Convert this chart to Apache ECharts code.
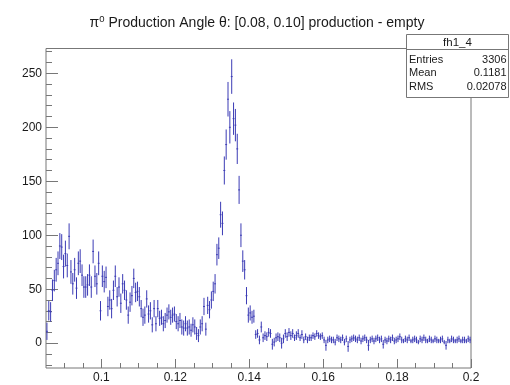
<!DOCTYPE html>
<html>
<head>
<meta charset="utf-8">
<script src="https://cdn.jsdelivr.net/npm/echarts@6/dist/echarts.min.js"></script>
<style>
html, body { margin: 0; padding: 0; background: #fff; }
#chart { width: 510px; height: 385px; }
</style>
</head>
<body>
<div id="chart"></div>
<script>
// Histogram fh1_4: 230 bins of width 0.0005 starting at 0.085
const binLow = 0.085;
const binWidth = 0.0005;

const counts = [
  11, 30, 29, 49, 58, 68, 74, 90, 89, 71,
  83, 72, 99, 66, 55, 68, 51, 74, 76, 63,
  52, 52, 54, 63, 52, 85, 62, 55, 74, 30,
  62, 57, 61, 34, 40, 32, 49, 62, 43, 52,
  37, 55, 49, 40, 26, 38, 44, 60, 47, 48,
  43, 32, 24, 26, 41, 27, 30, 17, 32, 18,
  32, 23, 24, 18, 21, 26, 29, 24, 26, 27,
  20, 18, 21, 15, 14, 18, 14, 15, 12, 17,
  15, 9, 7, 15, 18, 34, 13, 35, 31, 40,
  48, 55, 82, 88, 119, 111, 160, 184, 226, 200,
  247, 208, 202, 180, 142, 100, 76, 68, 44, 26,
  28, 24, 25, 8, 9, 3, 15, 5, 7, 6,
  10, 9, -1, 1, 5, 6, 5, 0, 4, 9,
  6, 10, 7, 9, 5, 7, 9, 5, 8, 3,
  6, 3, 5, 5, 7, 6, 9, 7, 6, 7,
  3, -2, 3, 4, 3, 3, 1, 5, 4, 3,
  5, 1, 4, -3, 3, 4, 5, 4, 3, 5,
  2, 4, 5, 3, -2, 3, 4, 2, 4, 5,
  3, 4, -1, 3, 2, 4, 3, 5, 2, 3,
  4, 6, 3, 2, 4, 3, 5, 2, 3, 4,
  3, 1, 4, 3, 5, 3, 2, 4, 3, 2,
  4, 3, 2, 3, 4, 1, -2, 3, 2, 4,
  3, 2, 3, 4, 2, 3, 3, 2, 4, 3
];

const errors = [
  8, 9, 9, 10, 10, 11, 11, 12, 12, 11,
  12, 11, 12, 11, 10, 11, 10, 11, 11, 10,
  10, 10, 10, 10, 10, 11, 10, 10, 11, 9,
  10, 10, 10, 9, 9, 9, 9, 10, 9, 9,
  9, 9, 9, 9, 8, 9, 9, 9, 9, 9,
  9, 8, 8, 8, 8, 8, 8, 7, 8, 7,
  8, 7, 7, 7, 7, 7, 7, 7, 7, 7,
  7, 7, 7, 7, 7, 7, 7, 7, 6, 7,
  7, 6, 6, 7, 7, 8, 6, 8, 8, 8,
  9, 9, 10, 10, 12, 11, 13, 14, 16, 15,
  16, 15, 15, 14, 13, 11, 10, 9, 8, 7,
  7, 6, 6, 4, 4, 4, 5, 4, 4, 4,
  4, 4, 5, 4, 4, 4, 4, 5, 4, 4,
  4, 4, 4, 4, 3, 4, 4, 3, 4, 3,
  3, 3, 3, 3, 3, 3, 3, 3, 3, 3,
  3, 5, 3, 3, 3, 3, 3, 3, 3, 3,
  3, 3, 3, 5, 3, 3, 3, 3, 3, 3,
  3, 3, 3, 3, 5, 3, 3, 3, 3, 3,
  3, 3, 4, 3, 3, 3, 3, 3, 3, 3,
  3, 3, 3, 2, 3, 3, 3, 2, 3, 3,
  3, 2, 3, 3, 3, 3, 2, 3, 3, 2,
  3, 3, 2, 3, 3, 2, 4, 3, 2, 3,
  3, 2, 3, 3, 2, 3, 3, 2, 3, 3
];

// Axis ranges and tick positions
const xRange = [0.085, 0.2];
const yRange = [-23, 273];
const xMajorTicks = [0.1, 0.12, 0.14, 0.16, 0.18, 0.2];
const xMinorTicks = [0.09, 0.095, 0.105, 0.11, 0.115, 0.125, 0.13, 0.135,
  0.145, 0.15, 0.155, 0.165, 0.17, 0.175, 0.185, 0.19, 0.195];
const yMajorTicks = [0, 50, 100, 150, 200, 250];
const yMinorTicks = [-20, -10, 10, 20, 30, 40, 60, 70, 80, 90, 110, 120, 130, 140,
  160, 170, 180, 190, 210, 220, 230, 240, 260, 270];

// Statistics box
const statsTitle = 'fh1_4';
const statsNames = ['Entries', 'Mean', 'RMS'];
const statsValues = ['3306', '0.1181', '0.02078'];

const FONT = '"Liberation Sans", Arial, Helvetica, sans-serif';
const AXIS_GRAY = '#777777';
const MARK_COLOR = '#3b3bb5';

const histData = counts.map((v, i) => [binLow + binWidth * (i + 0.5), v, errors[i]]);

function fmtTick(v) {
  return String(parseFloat(Number(v).toFixed(3)));
}

function makeAxis(range, ticks, len, withLabels, pos) {
  return {
    type: 'value',
    position: pos,
    min: range[0],
    max: range[1],
    splitLine: { show: false },
    axisLine: { show: false, onZero: false },
    axisTick: {
      show: true,
      inside: true,
      length: len,
      customValues: ticks,
      lineStyle: { color: AXIS_GRAY, width: 1 }
    },
    axisLabel: withLabels ? {
      show: true,
      customValues: ticks,
      formatter: fmtTick,
      color: '#1a1a1a',
      fontSize: 12,
      fontFamily: FONT,
      margin: 4
    } : { show: false }
  };
}

const chart = echarts.init(document.getElementById('chart'), null, { renderer: 'canvas' });

const statsLeft = 406.5, statsRight = 508.5, statsTop = 34.5, statsSep = 49.5, statsBottom = 97.5;
const statsRowY = [59.5, 73, 86.5];

const graphics = [
  {
    type: 'text',
    x: 257,
    y: 23,
    z: 10,
    style: {
      text: '{a|π}{s|0}{a| Production Angle θ: [0.08, 0.10] production - empty}',
      align: 'center',
      verticalAlign: 'middle',
      rich: {
        a: { fontSize: 14, fontFamily: FONT, fill: '#1a1a1a', lineHeight: 18 },
        s: { fontSize: 9.5, fontFamily: FONT, fill: '#1a1a1a', lineHeight: 18, padding: [0, 0, 8, 0] }
      }
    }
  },
  {
    type: 'rect',
    z: 20,
    shape: { x: statsLeft, y: statsTop, width: statsRight - statsLeft, height: statsBottom - statsTop },
    style: { fill: '#fff', stroke: AXIS_GRAY, lineWidth: 1 }
  },
  {
    type: 'line',
    z: 21,
    shape: { x1: statsLeft, y1: statsSep, x2: statsRight, y2: statsSep },
    style: { stroke: AXIS_GRAY, lineWidth: 1 }
  },
  {
    type: 'text',
    z: 21,
    x: (statsLeft + statsRight) / 2,
    y: (statsTop + statsSep) / 2 + 0.5,
    style: { text: statsTitle, align: 'center', verticalAlign: 'middle', fontSize: 11.5, fontFamily: FONT, fill: '#1a1a1a' }
  }
];

statsNames.forEach((name, k) => {
  graphics.push({
    type: 'text', z: 21, x: statsLeft + 2.5, y: statsRowY[k],
    style: { text: name, align: 'left', verticalAlign: 'middle', fontSize: 11, fontFamily: FONT, fill: '#1a1a1a' }
  });
  graphics.push({
    type: 'text', z: 21, x: statsRight - 2, y: statsRowY[k],
    style: { text: statsValues[k], align: 'right', verticalAlign: 'middle', fontSize: 11, fontFamily: FONT, fill: '#1a1a1a' }
  });
});

chart.setOption({
  animation: false,
  backgroundColor: '#fff',
  grid: {
    left: 46,
    right: 39,
    top: 48.5,
    bottom: 17,
    show: true,
    borderColor: AXIS_GRAY,
    borderWidth: 1,
    backgroundColor: 'transparent'
  },
  xAxis: [
    makeAxis(xRange, xMajorTicks, 9, true, 'bottom'),
    makeAxis(xRange, xMinorTicks, 5, false, 'bottom')
  ],
  yAxis: [
    makeAxis(yRange, yMajorTicks, 12, true, 'left'),
    makeAxis(yRange, yMinorTicks, 6, false, 'left')
  ],
  series: [{
    type: 'custom',
    xAxisIndex: 0,
    yAxisIndex: 0,
    clip: true,
    data: histData,
    renderItem: function (params, api) {
      const x = api.value(0), y = api.value(1), e = api.value(2);
      const c = api.coord([x, y]);
      const yTop = api.coord([x, y + e])[1];
      const yBot = api.coord([x, y - e])[1];
      const xL = api.coord([x - binWidth / 2, y])[0];
      const xR = api.coord([x + binWidth / 2, y])[0];
      return {
        type: 'group',
        children: [
          { type: 'line', shape: { x1: c[0], y1: yTop, x2: c[0], y2: yBot }, style: { stroke: MARK_COLOR, lineWidth: 1 } },
          { type: 'line', shape: { x1: xL, y1: c[1], x2: xR, y2: c[1] }, style: { stroke: MARK_COLOR, lineWidth: 1 } }
        ]
      };
    }
  }],
  graphic: graphics
});
</script>
</body>
</html>
